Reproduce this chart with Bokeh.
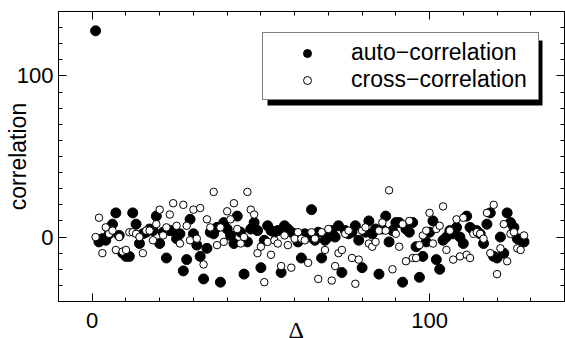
from bokeh.plotting import figure
from bokeh.models import (Range1d, LinearAxis, SingleIntervalTicker, Legend,
                          LegendItem, Title, BoxAnnotation)
from bokeh.embed import file_html
from bokeh.resources import INLINE

delta = list(range(1, 129))
auto = [128, -3, -1, -2, 2, 8, 15, 1, -10, -12, -12, 15, 8, -4, 2, 3, 5, 4, 13, -4,
        3, -13, 4, 4, -1, 2, -21, -14, 11, 2, -5, -12, -26, -7, 3, 2, 6, -28, 9, 5,
        1, -4, 13, 3, -23, -3, 5, 9, 4, -19, -2, 7, 4, 3, 4, -22, 7, 5, 3, 2,
        -3, -13, 2, 0, 17, -2, 3, -13, -2, 0, 4, 0, 7, -22, 4, 2, 3, 7, -2, -19,
        3, 10, 2, 5, -23, 5, 13, -3, 4, 9, 9, -28, 5, 3, 9, -6, -25, -12, -3, 3,
        10, -14, -20, -2, 0, 4, 2, 6, 0, -4, 13, 6, 4, 4, 2, -4, 8, 15, -12, -13,
        0, -10, 15, 9, 6, -1, -2, -3]
cross = [0, 12, -10, 6, 2, 4, -8, 0, -9, -8, 3, 3, 2, 0, -10, 4, 4, -2, 8, 17,
         1, 6, 14, 21, 7, -4, 20, 7, -2, 17, -1, 18, -17, 11, 6, 28, -5, 6, -3, 16,
         11, 21, 5, -4, 0, 28, 17, 14, -10, -6, -28, -3, -11, -2, -4, -18, 1, -5, -19, -1,
         3, -1, -2, -16, 3, -1, -26, 3, -8, 5, -27, -18, -10, -8, 2, 4, -13, -29, -14, 4,
         6, -4, -6, -3, 4, 9, 4, 29, -20, 2, -6, 8, -15, 10, -13, -13, -5, 1, 4, 15,
         -4, 5, 7, 19, -8, 4, -14, 11, -12, 12, -11, -13, 2, 3, 2, -1, 15, -10, 20, -23,
         -7, 8, -15, 2, 3, -7, -8, 1]

x_ticks_interval = 100
y_ticks_interval = 100
legend_labels = ["auto\u2212correlation", "cross\u2212correlation"]
x_title = "\u0394"
y_title = "correlation"

FONT = "Liberation Sans"

p = figure(width=565, height=338, output_backend="svg", toolbar_location=None,
           x_range=Range1d(-10, 140), y_range=Range1d(-40, 140),
           min_border_left=58, min_border_right=1, min_border_top=11,
           min_border_bottom=37, background_fill_color="white",
           border_fill_color="white", outline_line_color="black")
p.grid.visible = False


def style_axis(ax, interval, labels=True, standoff=5):
    ax.ticker = SingleIntervalTicker(interval=interval, num_minor_ticks=10)
    ax.major_tick_in = 8
    ax.major_tick_out = 0
    ax.minor_tick_in = 4
    ax.minor_tick_out = 0
    ax.axis_line_color = "black"
    ax.major_tick_line_color = "black"
    ax.minor_tick_line_color = "black"
    ax.major_label_text_font = FONT
    ax.major_label_text_color = "black"
    if labels:
        ax.major_label_text_font_size = "22px"
        ax.major_label_standoff = standoff
    else:
        ax.major_label_overrides = {0: "", 100: ""}
        ax.major_label_text_font_size = "0px"
        ax.major_label_standoff = 0


xb = p.below[0]
yl = p.left[0]
style_axis(xb, x_ticks_interval, True, 11)
style_axis(yl, y_ticks_interval, True, 5)
yl.axis_label = y_title
yl.axis_label_text_font = FONT
yl.axis_label_text_font_style = "normal"
yl.axis_label_text_font_size = "23px"
yl.axis_label_text_color = "black"
yl.axis_label_standoff = -17

xt = LinearAxis()
style_axis(xt, x_ticks_interval, False)
p.add_layout(xt, "above")
yr = LinearAxis()
style_axis(yr, y_ticks_interval, False)
p.add_layout(yr, "right")

r_auto = p.scatter(delta, auto, size=10, marker="circle", fill_color="black",
                   line_color="black")
r_cross = p.scatter(delta, cross, size=7.5, marker="circle", fill_color="white",
                    line_color="black", line_width=1)

# drop shadow behind the legend box
p.add_layout(BoxAnnotation(left=51.96, right=133.48, top=122.0, bottom=81.66,
                           fill_color="black", fill_alpha=1.0, line_color=None,
                           level="annotation"))

legend = Legend(items=[LegendItem(label=legend_labels[0], renderers=[r_auto]),
                       LegendItem(label=legend_labels[1], renderers=[r_cross])],
                location=(204, 201), padding=6, spacing=0,
                glyph_width=76, glyph_height=20, label_standoff=6,
                label_width=181, label_height=23, margin=0,
                label_text_font=FONT, label_text_font_size="23px",
                border_line_color="black", border_line_width=1,
                background_fill_color="white", background_fill_alpha=1.0,
                label_text_color="black")
p.add_layout(legend, "center")

p.add_layout(Title(text=x_title, align="left", offset=230, standoff=-27,
                   vertical_align="top", text_font="Liberation Serif",
                   text_font_size="24px", text_font_style="normal",
                   text_color="black"), "below")

open("out.html", "w").write(file_html(p, INLINE))
